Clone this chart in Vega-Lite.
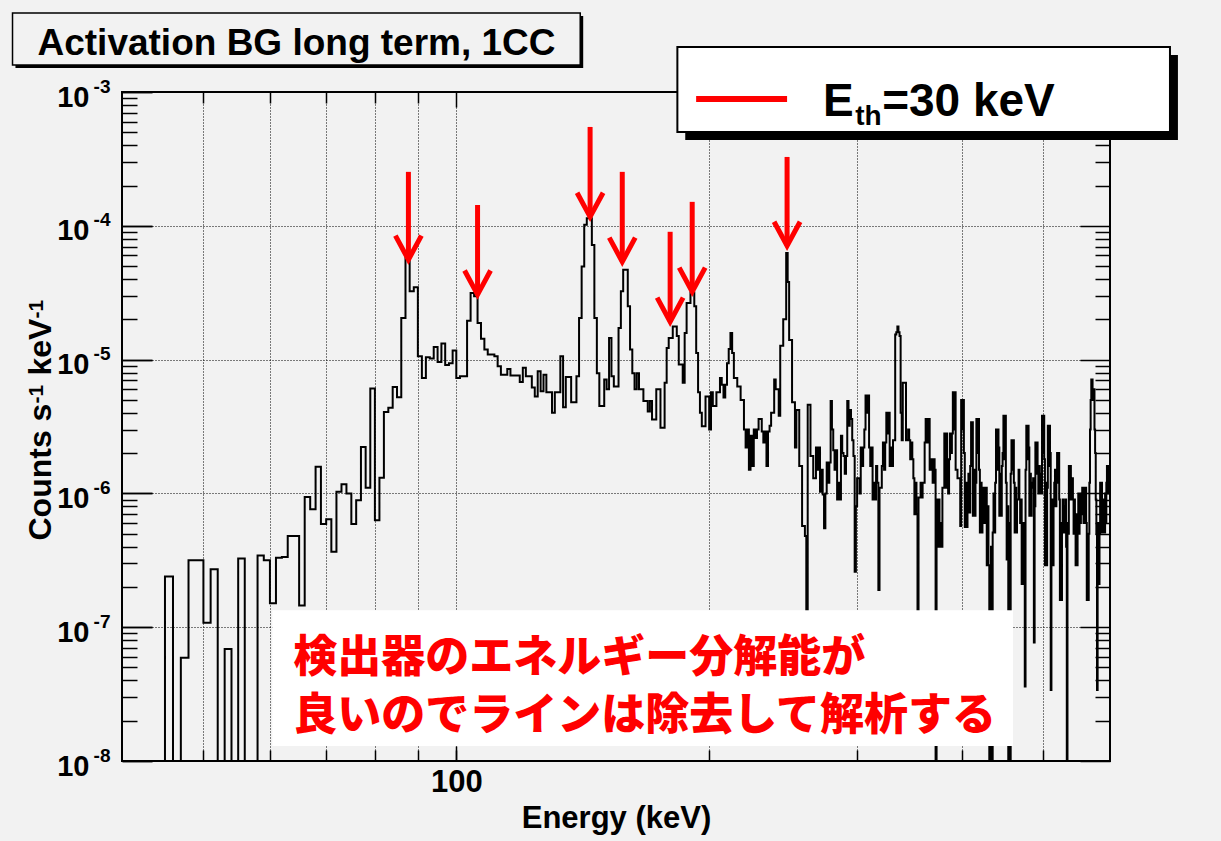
{
"$schema": "https://vega.github.io/schema/vega-lite/v6.json",
"width": 988, "height": 669,
"autosize": {"type": "none"},
"padding": {"left": 122, "top": 92, "right": 111, "bottom": 80},
"background": "#f2f2f2",
"config": {
 "view": {"stroke": "#000000", "strokeWidth": 2},
 "axis": {"domain": false, "tickColor": "#000000", "tickWidth": 1.5, "gridColor": "#000000", "gridDash": [1, 2], "gridWidth": 1, "gridOpacity": 1, "labelFont": "Liberation Sans", "labelFontWeight": "bold", "labelColor": "#000000", "titleFont": "Liberation Sans", "titleFontWeight": "bold", "titleColor": "#000000", "labelOverlap": false, "labelFlush": false}
},
"datasets": {
 "hist": [{"e":40,"c":1e-9},{"e":41,"c":1e-9},{"e":42,"c":1e-9},{"e":43,"c":1e-9},{"e":44,"c":1e-9},{"e":45,"c":2.39e-7},{"e":46,"c":1e-9},{"e":47,"c":5.9e-8},{"e":48,"c":3.16e-7},{"e":49,"c":3.16e-7},{"e":50,"c":1.08e-7},{"e":51,"c":2.71e-7},{"e":52,"c":1e-9},{"e":53,"c":6.86e-8},{"e":54,"c":1e-9},{"e":55,"c":3.26e-7},{"e":56,"c":1e-9},{"e":57,"c":1e-9},{"e":58,"c":3.44e-7},{"e":59,"c":3.16e-7},{"e":60,"c":1.51e-7},{"e":61,"c":3.3e-7},{"e":62,"c":3.35e-7},{"e":63,"c":4.8e-7},{"e":64,"c":4.8e-7},{"e":65,"c":1.45e-7},{"e":66,"c":9.4e-7},{"e":67,"c":7.6e-7},{"e":68,"c":1.58e-6},{"e":69,"c":5.9e-7},{"e":70,"c":6.4e-7},{"e":71,"c":3.66e-7},{"e":72,"c":1.03e-6},{"e":73,"c":1.17e-6},{"e":74,"c":1.0e-6},{"e":75,"c":5.9e-7},{"e":76,"c":8.9e-7},{"e":77,"c":2.22e-6},{"e":78,"c":1.1e-6},{"e":79,"c":6.08e-6},{"e":80,"c":6.3e-7},{"e":81,"c":1.31e-6},{"e":82,"c":4.05e-6},{"e":83,"c":4.36e-6},{"e":84,"c":6.25e-6},{"e":85,"c":5.24e-6},{"e":86,"c":2.05e-5},{"e":87,"c":5.8e-5},{"e":88,"c":3.24e-5},{"e":89,"c":3.48e-5},{"e":90,"c":1.06e-5},{"e":91,"c":7.3e-6},{"e":92,"c":1.04e-5},{"e":93,"c":1.02e-5},{"e":94,"c":1.24e-5},{"e":95,"c":9.6e-6},{"e":96,"c":1.32e-5},{"e":97,"c":9.1e-6},{"e":98,"c":9.4e-6},{"e":99,"c":1.17e-5},{"e":100,"c":7.3e-6},{"e":101,"c":7.5e-6},{"e":102,"c":7.5e-6},{"e":103,"c":1.95e-5},{"e":104,"c":3.15e-5},{"e":105,"c":2.97e-5},{"e":106,"c":1.88e-5},{"e":107,"c":1.43e-5},{"e":108,"c":1.19e-5},{"e":109,"c":1.09e-5},{"e":110,"c":1.09e-5},{"e":111,"c":1.06e-5},{"e":112,"c":8.9e-6},{"e":113,"c":7.7e-6},{"e":114,"c":7.7e-6},{"e":115,"c":8.5e-6},{"e":116,"c":7.6e-6},{"e":117,"c":7.6e-6},{"e":118,"c":7.6e-6},{"e":119,"c":6.8e-6},{"e":120,"c":8.7e-6},{"e":121,"c":7.5e-6},{"e":122,"c":7.5e-6},{"e":123,"c":6.2e-6},{"e":124,"c":5.3e-6},{"e":125,"c":8.2e-6},{"e":126,"c":5.8e-6},{"e":127,"c":7.7e-6},{"e":128,"c":5.7e-6},{"e":129,"c":5.7e-6},{"e":130,"c":4.0e-6},{"e":131,"c":5.7e-6},{"e":132,"c":5.7e-6},{"e":133,"c":1.06e-5},{"e":134,"c":4.4e-6},{"e":135,"c":7.4e-6},{"e":136,"c":7.4e-6},{"e":137,"c":4.8e-6},{"e":138,"c":4.8e-6},{"e":139,"c":7.5e-6},{"e":140,"c":2.05e-5},{"e":141,"c":4.97e-5},{"e":142,"c":1.02e-4},{"e":143,"c":1.14e-4},{"e":144,"c":1.14e-4},{"e":145,"c":7.2e-5},{"e":146,"c":2.05e-5},{"e":147,"c":7.9e-6},{"e":148,"c":4.5e-6},{"e":149,"c":4.5e-6},{"e":150,"c":7.1e-6},{"e":151,"c":6.0e-6},{"e":152,"c":1.45e-5},{"e":153,"c":7.5e-6},{"e":154,"c":6.3e-6},{"e":155,"c":6.3e-6},{"e":156,"c":1.72e-5},{"e":157,"c":3.24e-5},{"e":158,"c":4.7e-5},{"e":159,"c":4.7e-5},{"e":160,"c":2.5e-5},{"e":161,"c":1.19e-5},{"e":162,"c":7.9e-6},{"e":163,"c":6.0e-6},{"e":164,"c":7.9e-6},{"e":165,"c":6.0e-6},{"e":166,"c":6.0e-6},{"e":167,"c":4.9e-6},{"e":168,"c":4.9e-6},{"e":169,"c":4.1e-6},{"e":170,"c":4.9e-6},{"e":171,"c":3.56e-6},{"e":172,"c":3.56e-6},{"e":173,"c":6.0e-6},{"e":174,"c":6.0e-6},{"e":175,"c":3.1e-6},{"e":176,"c":3.1e-6},{"e":177,"c":6.7e-6},{"e":178,"c":1.22e-5},{"e":179,"c":1.45e-5},{"e":180,"c":1.45e-5},{"e":181,"c":1.77e-5},{"e":182,"c":1.77e-5},{"e":183,"c":1.5e-5},{"e":184,"c":9.2e-6},{"e":185,"c":9.2e-6},{"e":186,"c":6.7e-6},{"e":187,"c":1.58e-5},{"e":188,"c":2.65e-5},{"e":189,"c":2.65e-5},{"e":190,"c":3.18e-5},{"e":191,"c":3.18e-5},{"e":192,"c":2.5e-5},{"e":193,"c":1.12e-5},{"e":194,"c":5.7e-6},{"e":195,"c":4.0e-6},{"e":196,"c":3.18e-6},{"e":197,"c":3.18e-6},{"e":198,"c":5.3e-6},{"e":199,"c":5.3e-6},{"e":200,"c":3.0e-6},{"e":201,"c":5.7e-6},{"e":202,"c":4.5e-6},{"e":203,"c":4.5e-6},{"e":204,"c":5.7e-6},{"e":205,"c":5.7e-6},{"e":206,"c":7.3e-6},{"e":207,"c":6.5e-6},{"e":208,"c":5.2e-6},{"e":209,"c":6.5e-6},{"e":210,"c":9.4e-6},{"e":211,"c":1.2e-5},{"e":212,"c":1.58e-5},{"e":213,"c":1.12e-5},{"e":214,"c":7.3e-6},{"e":215,"c":7.3e-6},{"e":216,"c":6.3e-6},{"e":217,"c":6.3e-6},{"e":218,"c":5.0e-6},{"e":219,"c":5.0e-6},{"e":220,"c":3.0e-6},{"e":221,"c":2.2e-6},{"e":222,"c":3.0e-6},{"e":223,"c":1.5e-6},{"e":224,"c":2.7e-6},{"e":225,"c":1.6e-6},{"e":226,"c":3.0e-6},{"e":227,"c":2.6e-6},{"e":228,"c":3.0e-6},{"e":229,"c":3.6e-6},{"e":230,"c":3.6e-6},{"e":231,"c":2.9e-6},{"e":232,"c":2.4e-6},{"e":233,"c":2.9e-6},{"e":234,"c":1.6e-6},{"e":235,"c":2.9e-6},{"e":236,"c":3.2e-6},{"e":237,"c":4.0e-6},{"e":238,"c":4.0e-6},{"e":239,"c":7.1e-6},{"e":240,"c":6.0e-6},{"e":241,"c":6.0e-6},{"e":242,"c":3.8e-6},{"e":243,"c":1.27e-5},{"e":244,"c":1.27e-5},{"e":245,"c":2.0e-5},{"e":246,"c":2.0e-5},{"e":247,"c":6.25e-5},{"e":248,"c":3.8e-5},{"e":249,"c":1.4e-5},{"e":250,"c":1.4e-5},{"e":251,"c":4.8e-6},{"e":252,"c":4.8e-6},{"e":253,"c":2.2e-6},{"e":254,"c":4.2e-6},{"e":255,"c":4.2e-6},{"e":256,"c":1.6e-6},{"e":257,"c":1.6e-6},{"e":258,"c":5.7e-7},{"e":259,"c":5.7e-7},{"e":260,"c":4.8e-7},{"e":261,"c":1.0e-7},{"e":262,"c":4.6e-6},{"e":263,"c":4.6e-6},{"e":264,"c":1.9e-6},{"e":265,"c":1.9e-6},{"e":266,"c":1.3e-6},{"e":267,"c":1.3e-6},{"e":268,"c":2.2e-6},{"e":269,"c":1.5e-6},{"e":270,"c":2.2e-6},{"e":271,"c":1.03e-6},{"e":272,"c":1.5e-6},{"e":273,"c":9.8e-7},{"e":274,"c":5.5e-7},{"e":275,"c":1.0e-6},{"e":276,"c":1.7e-6},{"e":277,"c":1.2e-6},{"e":278,"c":1.7e-6},{"e":279,"c":4.9e-6},{"e":280,"c":3.0e-6},{"e":281,"c":2.1e-6},{"e":282,"c":1.5e-6},{"e":283,"c":2.1e-6},{"e":284,"c":9e-7},{"e":285,"c":1.2e-6},{"e":286,"c":9e-7},{"e":287,"c":2.7e-6},{"e":288,"c":2.0e-6},{"e":289,"c":1.9e-6},{"e":290,"c":1.4e-6},{"e":291,"c":1.9e-6},{"e":292,"c":4.9e-6},{"e":293,"c":3.2e-6},{"e":294,"c":4.2e-6},{"e":295,"c":3.6e-6},{"e":296,"c":2.5e-6},{"e":297,"c":1.9e-6},{"e":298,"c":2.6e-7},{"e":299,"c":8e-7},{"e":300,"c":1.3e-6},{"e":301,"c":1.3e-6},{"e":302,"c":1.0e-6},{"e":303,"c":2.2e-6},{"e":304,"c":1.6e-6},{"e":305,"c":2.2e-6},{"e":306,"c":3.0e-6},{"e":307,"c":5.4e-6},{"e":308,"c":4.0e-6},{"e":309,"c":5.4e-6},{"e":310,"c":2.2e-6},{"e":311,"c":1.6e-6},{"e":312,"c":2.2e-6},{"e":313,"c":9e-7},{"e":314,"c":1.2e-6},{"e":315,"c":9e-7},{"e":316,"c":1.6e-6},{"e":317,"c":1.2e-6},{"e":318,"c":1.9e-7},{"e":319,"c":1.1e-6},{"e":320,"c":1.1e-6},{"e":321,"c":1.6e-6},{"e":322,"c":2.4e-6},{"e":323,"c":1.5e-6},{"e":324,"c":2.4e-6},{"e":325,"c":4.0e-6},{"e":326,"c":2.8e-6},{"e":327,"c":4.0e-6},{"e":328,"c":1.6e-6},{"e":329,"c":2.2e-6},{"e":330,"c":1.6e-6},{"e":331,"c":2.5e-6},{"e":332,"c":2.5e-6},{"e":333,"c":1.54e-5},{"e":334,"c":1.6e-5},{"e":335,"c":1.77e-5},{"e":336,"c":1.6e-5},{"e":337,"c":1.5e-5},{"e":338,"c":4.0e-6},{"e":339,"c":2.5e-6},{"e":340,"c":6.7e-6},{"e":341,"c":6.7e-6},{"e":342,"c":6.7e-6},{"e":343,"c":2.5e-6},{"e":344,"c":2.5e-6},{"e":345,"c":3.0e-6},{"e":346,"c":2.5e-6},{"e":347,"c":1.8e-6},{"e":348,"c":2.4e-6},{"e":349,"c":1.8e-6},{"e":350,"c":1.3e-6},{"e":351,"c":7e-7},{"e":352,"c":1.2e-6},{"e":353,"c":7e-7},{"e":354,"c":1.0e-7},{"e":355,"c":9.3e-7},{"e":356,"c":9.3e-7},{"e":357,"c":1.2e-6},{"e":358,"c":9.3e-7},{"e":359,"c":1.2e-6},{"e":360,"c":1.2e-6},{"e":361,"c":2.4e-6},{"e":362,"c":3.6e-6},{"e":363,"c":3.6e-6},{"e":364,"c":2.4e-6},{"e":365,"c":3.6e-6},{"e":366,"c":1.5e-6},{"e":367,"c":1.5e-6},{"e":368,"c":1.8e-6},{"e":369,"c":1.2e-6},{"e":370,"c":1.8e-6},{"e":371,"c":1.5e-6},{"e":372,"c":1e-9},{"e":373,"c":9e-7},{"e":374,"c":4e-7},{"e":375,"c":9e-7},{"e":376,"c":4e-7},{"e":377,"c":6e-7},{"e":378,"c":4e-7},{"e":379,"c":1.1e-6},{"e":380,"c":1.1e-6},{"e":381,"c":2.8e-6},{"e":382,"c":1.1e-6},{"e":383,"c":2.8e-6},{"e":384,"c":1.6e-6},{"e":385,"c":1.0e-6},{"e":386,"c":1.8e-6},{"e":387,"c":2.8e-6},{"e":388,"c":2.0e-6},{"e":389,"c":2.8e-6},{"e":390,"c":5.7e-6},{"e":391,"c":3.0e-6},{"e":392,"c":5.7e-6},{"e":393,"c":1.5e-6},{"e":394,"c":1.5e-6},{"e":395,"c":1.3e-6},{"e":396,"c":1.3e-6},{"e":397,"c":1.3e-6},{"e":398,"c":5.7e-7},{"e":399,"c":5.0e-6},{"e":400,"c":3.0e-6},{"e":401,"c":5.0e-6},{"e":402,"c":2.0e-6},{"e":403,"c":5.6e-7},{"e":404,"c":1.2e-6},{"e":405,"c":5.6e-7},{"e":406,"c":7.2e-7},{"e":407,"c":1.4e-6},{"e":408,"c":7.2e-7},{"e":409,"c":1.6e-6},{"e":410,"c":3.4e-6},{"e":411,"c":3.4e-6},{"e":412,"c":6.8e-7},{"e":413,"c":1.5e-6},{"e":414,"c":6.8e-7},{"e":415,"c":1.2e-6},{"e":416,"c":3.6e-6},{"e":417,"c":2.0e-6},{"e":418,"c":3.6e-6},{"e":419,"c":1.5e-6},{"e":420,"c":5.1e-7},{"e":421,"c":1.2e-6},{"e":422,"c":5.1e-7},{"e":423,"c":8e-7},{"e":424,"c":1.1e-6},{"e":425,"c":6e-7},{"e":426,"c":1.1e-6},{"e":427,"c":1.1e-6},{"e":428,"c":2.9e-7},{"e":429,"c":8e-7},{"e":430,"c":2.9e-7},{"e":431,"c":1e-9},{"e":432,"c":1e-9},{"e":433,"c":4e-7},{"e":434,"c":1e-9},{"e":435,"c":5.1e-7},{"e":436,"c":1.0e-6},{"e":437,"c":5.1e-7},{"e":438,"c":1.2e-6},{"e":439,"c":3.0e-6},{"e":440,"c":1.5e-6},{"e":441,"c":3.0e-6},{"e":442,"c":2.2e-6},{"e":443,"c":6.8e-7},{"e":444,"c":1.4e-6},{"e":445,"c":6.8e-7},{"e":446,"c":1.6e-6},{"e":447,"c":2.0e-6},{"e":448,"c":3.8e-6},{"e":449,"c":1.8e-6},{"e":450,"c":3.8e-6},{"e":451,"c":1.2e-6},{"e":452,"c":3.2e-7},{"e":453,"c":8e-7},{"e":454,"c":1e-9},{"e":455,"c":6e-7},{"e":456,"c":1e-9},{"e":457,"c":1.4e-6},{"e":458,"c":2.5e-6},{"e":459,"c":1.5e-6},{"e":460,"c":2.5e-6},{"e":461,"c":1.2e-6},{"e":462,"c":5.1e-7},{"e":463,"c":1.1e-6},{"e":464,"c":5.1e-7},{"e":465,"c":9e-7},{"e":466,"c":9e-7},{"e":467,"c":1.5e-6},{"e":468,"c":9e-7},{"e":469,"c":6e-7},{"e":470,"c":9e-7},{"e":471,"c":2.1e-7},{"e":472,"c":6e-7},{"e":473,"c":2.1e-7},{"e":474,"c":6e-7},{"e":475,"c":3.6e-8},{"e":476,"c":1.5e-6},{"e":477,"c":3.2e-6},{"e":478,"c":1.8e-6},{"e":479,"c":3.2e-6},{"e":480,"c":2.2e-6},{"e":481,"c":6.8e-7},{"e":482,"c":1.4e-6},{"e":483,"c":6.8e-7},{"e":484,"c":1.1e-6},{"e":485,"c":1.2e-6},{"e":486,"c":1.3e-6},{"e":487,"c":7.7e-8},{"e":488,"c":8e-7},{"e":489,"c":2.4e-6},{"e":490,"c":1.4e-6},{"e":491,"c":2.4e-6},{"e":492,"c":1.5e-6},{"e":493,"c":1.0e-6},{"e":494,"c":1.6e-6},{"e":495,"c":1.0e-6},{"e":496,"c":1.4e-6},{"e":497,"c":1.0e-6},{"e":498,"c":3.8e-6},{"e":499,"c":2.0e-6},{"e":500,"c":3.8e-6},{"e":501,"c":1.8e-6},{"e":502,"c":2.9e-7},{"e":503,"c":1.2e-6},{"e":504,"c":2.9e-7},{"e":505,"c":1.1e-6},{"e":506,"c":3.2e-6},{"e":507,"c":1.6e-6},{"e":508,"c":3.2e-6},{"e":509,"c":2.0e-6},{"e":510,"c":3.4e-8},{"e":511,"c":2.9e-7},{"e":512,"c":9e-7},{"e":513,"c":2.9e-7},{"e":514,"c":8e-7},{"e":515,"c":1.2e-6},{"e":516,"c":1.5e-6},{"e":517,"c":8e-7},{"e":518,"c":1.5e-6},{"e":519,"c":2.0e-6},{"e":520,"c":1.2e-6},{"e":521,"c":2.0e-6},{"e":522,"c":9e-7},{"e":523,"c":1.6e-7},{"e":524,"c":6e-7},{"e":525,"c":1.6e-7},{"e":526,"c":5.1e-7},{"e":527,"c":9e-7},{"e":528,"c":5.1e-7},{"e":529,"c":8e-7},{"e":530,"c":5.1e-7},{"e":531,"c":9e-7},{"e":532,"c":4e-7},{"e":533,"c":1e-9},{"e":534,"c":6e-7},{"e":535,"c":5e-7},{"e":536,"c":1.6e-6},{"e":537,"c":9e-7},{"e":538,"c":1.6e-6},{"e":539,"c":1.2e-6},{"e":540,"c":9e-7},{"e":541,"c":1.3e-6},{"e":542,"c":9e-7},{"e":543,"c":5e-7},{"e":544,"c":9e-7},{"e":545,"c":6e-7},{"e":546,"c":2.9e-7},{"e":547,"c":7e-7},{"e":548,"c":2.9e-7},{"e":549,"c":6e-7},{"e":550,"c":1.0e-6},{"e":551,"c":5e-7},{"e":552,"c":1.0e-6},{"e":553,"c":6e-7},{"e":554,"c":1.0e-6},{"e":555,"c":7e-7},{"e":556,"c":1.1e-6},{"e":557,"c":1.1e-6},{"e":558,"c":6e-7},{"e":559,"c":1.1e-6},{"e":560,"c":8e-7},{"e":561,"c":1.1e-6},{"e":562,"c":6e-7},{"e":563,"c":1.6e-7},{"e":564,"c":5e-7},{"e":565,"c":1.6e-7},{"e":566,"c":5e-7},{"e":567,"c":1.2e-6},{"e":568,"c":3.0e-6},{"e":569,"c":5.0e-6},{"e":570,"c":7.1e-6},{"e":571,"c":7.1e-6},{"e":572,"c":6.0e-6},{"e":573,"c":5.0e-6},{"e":574,"c":6.0e-6},{"e":575,"c":3.0e-6},{"e":576,"c":2.0e-6},{"e":577,"c":9e-7},{"e":578,"c":5e-7},{"e":579,"c":3.4e-8},{"e":580,"c":2.1e-7},{"e":581,"c":6e-7},{"e":582,"c":2.1e-7},{"e":583,"c":5e-7},{"e":584,"c":1.2e-6},{"e":585,"c":8e-7},{"e":586,"c":1.2e-6},{"e":587,"c":5.1e-7},{"e":588,"c":9e-7},{"e":589,"c":5.1e-7},{"e":590,"c":8e-7},{"e":591,"c":5.1e-7},{"e":592,"c":1.0e-6},{"e":593,"c":6e-7},{"e":594,"c":1.2e-6},{"e":595,"c":1.6e-6},{"e":596,"c":1.0e-6},{"e":597,"c":1.6e-6},{"e":598,"c":1.2e-6},{"e":599,"c":1.6e-6},{"e":600,"c":1.6e-6}],
 "arrows": [{"e":87.7,"top":2.53e-4,"tip":5.58e-5},{"e":106.0,"top":1.43e-4,"tip":3.06e-5},{"e":144.3,"top":5.48e-4,"tip":1.167e-4},{"e":157.6,"top":2.53e-4,"tip":5.39e-5},{"e":179.7,"top":9.02e-5,"tip":1.92e-5},{"e":190.9,"top":1.51e-4,"tip":3.22e-5},{"e":247.6,"top":3.27e-4,"tip":7.09e-5}]
},
"resolve": {"axis": {"x": "independent", "y": "independent"}},
"layer": [
 {
  "data": {"name": "hist"},
  "mark": {"type": "line", "interpolate": "step-after", "color": "#000000", "strokeWidth": 2, "clip": true},
  "encoding": {
   "x": {"field": "e", "type": "quantitative", "scale": {"type": "log", "domain": [40, 600], "nice": false},
    "axis": {"orient": "bottom", "values": [100], "tickSize": -15, "labelFontSize": 31, "labelPadding": 21, "format": "d", "grid": false, "title": "Energy (keV)", "titleFontSize": 31, "titleY": 66, "titleBaseline": "alphabetic"}},
   "y": {"field": "c", "type": "quantitative", "scale": {"type": "log", "domain": [1e-8, 1e-3], "nice": false},
    "axis": {"orient": "left", "values": [1e-8, 1e-7, 1e-6, 1e-5, 1e-4, 1e-3], "tickSize": -30, "labelFontSize": 29, "labelPadding": 63, "labelOffset": 5, "labelBaseline": "middle", "labelExpr": "'10'", "grid": true, "title": "Counts s", "titleFontSize": 32, "titleX": -72, "titleY": 448, "titleAngle": 270, "titleBaseline": "alphabetic", "titleAlign": "left"}}
  }
 },
 {
  "data": {"values": [{"e": 60.40, "e2": 459.9, "c": 1.339e-7, "c2": 1.2935e-8}]},
  "mark": {"type": "rect", "fill": "#ffffff"},
  "encoding": {
   "x": {"field": "e", "type": "quantitative", "scale": {"type": "log", "domain": [40, 600], "nice": false},
    "axis": {"orient": "bottom", "values": [50, 60, 70, 80, 90, 100, 200, 300, 400, 500], "tickSize": -11, "labels": false, "grid": true, "title": null}},
   "x2": {"field": "e2"},
   "y": {"field": "c", "type": "quantitative", "scale": {"type": "log", "domain": [1e-8, 1e-3], "nice": false},
    "axis": {"orient": "left", "values": [2e-8,3e-8,4e-8,5e-8,6e-8,7e-8,8e-8,9e-8,2e-7,3e-7,4e-7,5e-7,6e-7,7e-7,8e-7,9e-7,2e-6,3e-6,4e-6,5e-6,6e-6,7e-6,8e-6,9e-6,2e-5,3e-5,4e-5,5e-5,6e-5,7e-5,8e-5,9e-5,2e-4,3e-4,4e-4,5e-4,6e-4,7e-4,8e-4,9e-4], "tickSize": -15, "labels": false, "grid": false, "title": null}},
   "y2": {"field": "c2"}
  }
 },
 {
  "data": {"values": [{"e": 63.98, "c": 5.75e-8, "t": "検出器のエネルギー分解能が"}, {"e": 63.98, "c": 2.12e-8, "t": "良いのでラインは除去して解析する"}]},
  "mark": {"type": "text", "align": "left", "baseline": "middle", "font": "Noto Sans CJK JP", "fontWeight": 900, "fontSize": 44, "color": "#ff0000"},
  "encoding": {
   "x": {"field": "e", "type": "quantitative", "scale": {"type": "log", "domain": [40, 600], "nice": false}, "axis": null},
   "y": {"field": "c", "type": "quantitative", "scale": {"type": "log", "domain": [1e-8, 1e-3], "nice": false},
    "axis": {"orient": "left", "values": [1e-8, 1e-7, 1e-6, 1e-5, 1e-4, 1e-3], "tickSize": -30, "labelFontSize": 19, "labelPadding": 42, "labelOffset": -6, "labelBaseline": "middle", "labelExpr": "'-' + (-round(log(datum.value)/LN10))", "grid": false, "title": "-1", "titleFontSize": 21, "titleX": -80, "titleY": 311, "titleAngle": 270, "titleBaseline": "alphabetic", "titleAlign": "left"}},
   "text": {"field": "t"}
  }
 },
 {
  "data": {"name": "arrows"},
  "mark": {"type": "rule", "color": "#ff0000", "strokeWidth": 5},
  "encoding": {
   "x": {"field": "e", "type": "quantitative", "scale": {"type": "log", "domain": [40, 600], "nice": false},
    "axis": {"orient": "top", "values": [50, 60, 70, 80, 90, 200, 300, 400, 500], "tickSize": -11, "labels": false, "grid": false, "title": null}},
   "y": {"field": "top", "type": "quantitative", "scale": {"type": "log", "domain": [1e-8, 1e-3], "nice": false},
    "axis": {"orient": "right", "values": [1e-8, 1e-7, 1e-6, 1e-5, 1e-4, 1e-3], "tickSize": -30, "labels": false, "grid": false, "title": null}},
   "y2": {"field": "tip"}
  }
 },
 {
  "data": {"name": "arrows"},
  "mark": {"type": "point", "shape": "M -1 -1.85 L 0 0 L 1 -1.85", "size": 676, "filled": false, "stroke": "#ff0000", "strokeWidth": 5, "opacity": 1, "strokeOpacity": 1, "strokeJoin": "miter", "strokeCap": "butt"},
  "encoding": {
   "x": {"field": "e", "type": "quantitative", "scale": {"type": "log", "domain": [40, 600], "nice": false},
    "axis": {"orient": "top", "values": [100], "tickSize": -15, "labels": false, "grid": false, "title": null}},
   "y": {"field": "tip", "type": "quantitative", "scale": {"type": "log", "domain": [1e-8, 1e-3], "nice": false},
    "axis": {"orient": "right", "values": [2e-8,3e-8,4e-8,5e-8,6e-8,7e-8,8e-8,9e-8,2e-7,3e-7,4e-7,5e-7,6e-7,7e-7,8e-7,9e-7,2e-6,3e-6,4e-6,5e-6,6e-6,7e-6,8e-6,9e-6,2e-5,3e-5,4e-5,5e-5,6e-5,7e-5,8e-5,9e-5,2e-4,3e-4,4e-4,5e-4,6e-4,7e-4,8e-4,9e-4], "tickSize": -15, "labels": false, "grid": false, "title": null}}
  }
 },
 {
  "data": {"values": [{"e": 187.3, "e2": 722.8, "c": 1.888e-3, "c2": 4.383e-4}]},
  "mark": {"type": "rect", "fill": "#000000"},
  "encoding": {
   "x": {"field": "e", "type": "quantitative", "scale": {"type": "log", "domain": [40, 600], "nice": false}, "axis": null},
   "x2": {"field": "e2"},
   "y": {"field": "c", "type": "quantitative", "scale": {"type": "log", "domain": [1e-8, 1e-3], "nice": false},
    "axis": {"orient": "left", "ticks": false, "labels": false, "grid": false, "title": "keV", "titleFontSize": 32, "titleX": -72, "titleY": 283, "titleAngle": 270, "titleBaseline": "alphabetic", "titleAlign": "left"}},
   "y2": {"field": "c2"}
  }
 },
 {
  "data": {"values": [{"e": 183.3, "e2": 707.2, "c": 2.167e-3, "c2": 5.03e-4}]},
  "mark": {"type": "rect", "fill": "#ffffff", "stroke": "#000000", "strokeWidth": 2},
  "encoding": {
   "x": {"field": "e", "type": "quantitative", "scale": {"type": "log", "domain": [40, 600], "nice": false}, "axis": null},
   "x2": {"field": "e2"},
   "y": {"field": "c", "type": "quantitative", "scale": {"type": "log", "domain": [1e-8, 1e-3], "nice": false},
    "axis": {"orient": "left", "ticks": false, "labels": false, "grid": false, "title": "-1", "titleFontSize": 21, "titleX": -80, "titleY": 226, "titleAngle": 270, "titleBaseline": "alphabetic", "titleAlign": "left"}},
   "y2": {"field": "c2"}
  }
 },
 {
  "data": {"values": [{"e": 192.97, "e2": 247.6, "c": 8.866e-4}]},
  "mark": {"type": "rule", "color": "#ff0000", "strokeWidth": 6},
  "encoding": {
   "x": {"field": "e", "type": "quantitative", "scale": {"type": "log", "domain": [40, 600], "nice": false}, "axis": null},
   "x2": {"field": "e2"},
   "y": {"field": "c", "type": "quantitative", "scale": {"type": "log", "domain": [1e-8, 1e-3], "nice": false}, "axis": null}
  }
 },
 {
  "data": {"values": [{"e": 273.3, "c": 6.622e-4, "t": "E"}, {"e": 321.3, "c": 6.622e-4, "t": "=30 keV"}]},
  "mark": {"type": "text", "align": "left", "baseline": "alphabetic", "font": "Liberation Sans", "fontWeight": "bold", "fontSize": 46, "color": "#000000"},
  "encoding": {
   "x": {"field": "e", "type": "quantitative", "scale": {"type": "log", "domain": [40, 600], "nice": false}, "axis": null},
   "y": {"field": "c", "type": "quantitative", "scale": {"type": "log", "domain": [1e-8, 1e-3], "nice": false}, "axis": null},
   "text": {"field": "t"}
  }
 },
 {
  "data": {"values": [{"e": 298.4, "c": 5.671e-4, "t": "th"}]},
  "mark": {"type": "text", "align": "left", "baseline": "alphabetic", "font": "Liberation Sans", "fontWeight": "bold", "fontSize": 28, "color": "#000000"},
  "encoding": {
   "x": {"field": "e", "type": "quantitative", "scale": {"type": "log", "domain": [40, 600], "nice": false}, "axis": null},
   "y": {"field": "c", "type": "quantitative", "scale": {"type": "log", "domain": [1e-8, 1e-3], "nice": false}, "axis": null},
   "text": {"field": "t"}
  }
 },
 {
  "data": {"values": [{"e": 29.87, "e2": 141.6, "c": 3.693e-3, "c2": 1.510e-3}]},
  "mark": {"type": "rect", "fill": "#000000"},
  "encoding": {
   "x": {"field": "e", "type": "quantitative", "scale": {"type": "log", "domain": [40, 600], "nice": false}, "axis": null},
   "x2": {"field": "e2"},
   "y": {"field": "c", "type": "quantitative", "scale": {"type": "log", "domain": [1e-8, 1e-3], "nice": false}, "axis": null},
   "y2": {"field": "c2"}
  }
 },
 {
  "data": {"values": [{"e": 29.63, "e2": 140.45, "c": 3.887e-3, "c2": 1.590e-3}]},
  "mark": {"type": "rect", "fill": "#f2f2f2", "stroke": "#000000", "strokeWidth": 1.5},
  "encoding": {
   "x": {"field": "e", "type": "quantitative", "scale": {"type": "log", "domain": [40, 600], "nice": false}, "axis": null},
   "x2": {"field": "e2"},
   "y": {"field": "c", "type": "quantitative", "scale": {"type": "log", "domain": [1e-8, 1e-3], "nice": false}, "axis": null},
   "y2": {"field": "c2"}
  }
 },
 {
  "data": {"values": [{"e": 31.73, "c": 1.888e-3, "t": "Activation BG long term, 1CC"}]},
  "mark": {"type": "text", "align": "left", "baseline": "alphabetic", "font": "Liberation Sans", "fontWeight": "bold", "fontSize": 37, "color": "#000000"},
  "encoding": {
   "x": {"field": "e", "type": "quantitative", "scale": {"type": "log", "domain": [40, 600], "nice": false}, "axis": null},
   "y": {"field": "c", "type": "quantitative", "scale": {"type": "log", "domain": [1e-8, 1e-3], "nice": false}, "axis": null},
   "text": {"field": "t"}
  }
 }
]
}
